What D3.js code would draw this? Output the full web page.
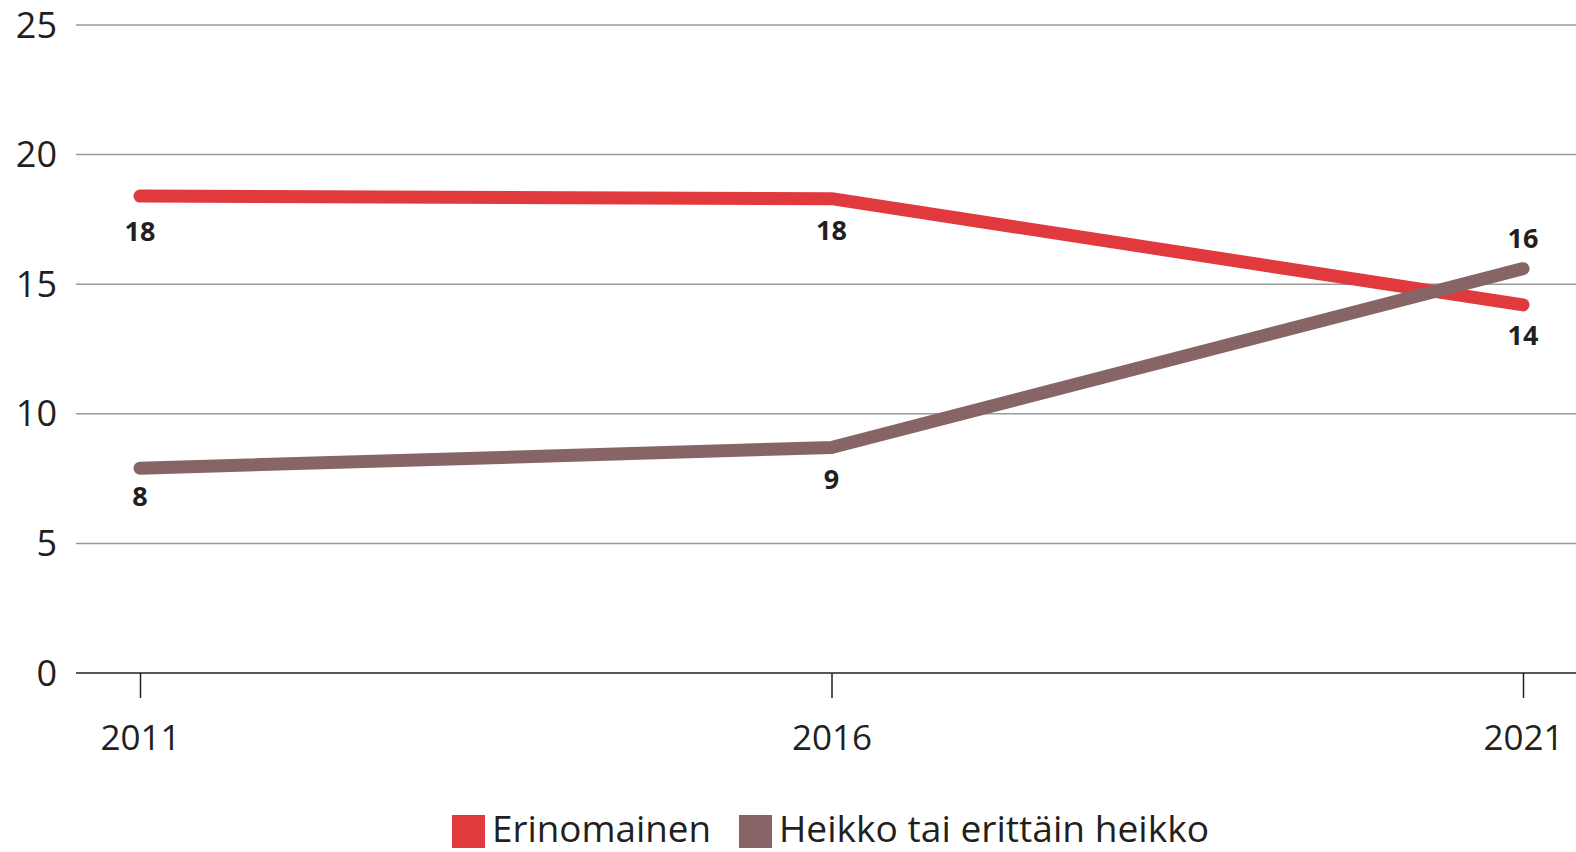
<!DOCTYPE html>
<html><head><meta charset="utf-8">
<script src="https://cdn.jsdelivr.net/npm/d3@7"></script>
<style>body{margin:0;background:#fff}svg{display:block}</style>
</head><body>
<svg id="c" width="1576" height="852"></svg>
<script>
const years = [2011, 2016, 2021];
const erinomainen = [18.4, 18.3, 14.2];
const heikko = [7.9, 8.7, 15.6];
const seriesNames = ["Erinomainen", "Heikko tai erittäin heikko"];
const yTicks = [0, 5, 10, 15, 20, 25];

const colors = ["#e0393e", "#876566"];
const svg = d3.select("#c");
const x = d3.scalePoint().domain(years).range([140, 1523]);
const y = d3.scaleLinear().domain([0, 25]).range([673, 25]);
const font = "'Open Sans', sans-serif";

// grid
svg.append("g").selectAll("line").data(yTicks.filter(d => d > 0)).join("line")
  .attr("x1", 76).attr("x2", 1576).attr("y1", d => y(d)).attr("y2", d => y(d))
  .attr("stroke", "#9a9a9a").attr("stroke-width", 1.5);

// y labels
svg.append("g").selectAll("text").data(yTicks).join("text")
  .attr("x", 57).attr("y", d => y(d)).attr("dy", "0.35em").attr("text-anchor", "end")
  .attr("font-family", font).attr("font-size", 36).attr("fill", "#231f20").text(d => d);

// x axis
const xa = svg.append("g").attr("transform", `translate(0,${y(0)})`)
  .call(d3.axisBottom(x).tickSize(25).tickPadding(27).tickFormat(d => d));
xa.select(".domain").remove();
xa.insert("line", ":first-child").attr("x1", 76).attr("x2", 1576).attr("stroke", "#231f20").attr("stroke-width", 1.5);
xa.selectAll(".tick line").attr("stroke", "#231f20").attr("stroke-width", 1.5);
xa.selectAll(".tick text").attr("font-family", font).attr("font-size", 35).attr("fill", "#231f20");

// lines
const series = [erinomainen, heikko];
const line = d3.line().x((d, i) => x(years[i])).y(d => y(d));
series.forEach((s, k) => {
  svg.append("path").datum(s).attr("d", line).attr("fill", "none")
    .attr("stroke", colors[k]).attr("stroke-width", 13)
    .attr("stroke-linecap", "round").attr("stroke-linejoin", "round");
});

// labels
const offs = [[35, 32, 31], [28, 32, -30]];
series.forEach((s, k) => {
  svg.append("g").selectAll("text").data(s).join("text")
    .attr("x", (d, i) => x(years[i])).attr("y", (d, i) => y(d) + offs[k][i])
    .attr("dy", "0.35em").attr("text-anchor", "middle")
    .attr("font-family", font).attr("font-weight", "bold").attr("font-size", 27)
    .attr("fill", "#231f20").text(d => Math.round(d));
});

// legend
const lg = svg.append("g");
const lx = [452, 739];
const lw = [219, 430];
seriesNames.forEach((n, k) => {
  lg.append("rect").attr("x", lx[k]).attr("y", 815).attr("width", 33).attr("height", 33).attr("fill", colors[k]);
  lg.append("text").attr("x", lx[k] + 40).attr("y", 842)
    .attr("textLength", lw[k]).attr("lengthAdjust", "spacingAndGlyphs")
    .attr("font-family", font).attr("font-size", 36.5).attr("fill", "#231f20").text(n);
});
</script>
</body></html>
